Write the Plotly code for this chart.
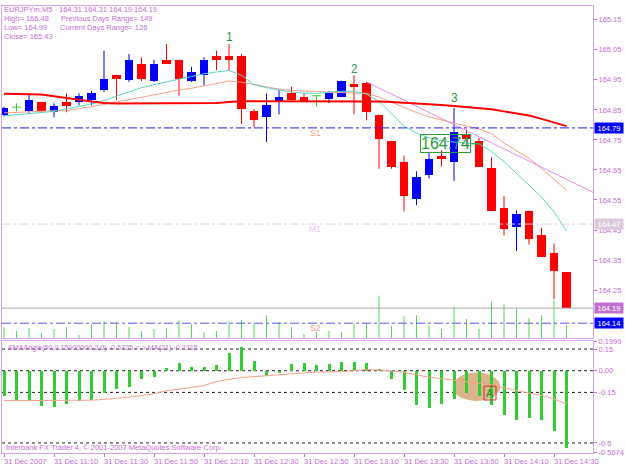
import plotly.graph_objects as go
import numpy as np

W, H = 625, 469

# ---------------- data ----------------
opens  = [164.832,164.859,164.848,164.875,164.844,164.876,164.876,164.883,164.916,164.965,
          164.949,165.003,164.946,165.017,165.017,164.946,164.965,165.028,165.028,165.028,
          164.845,164.825,164.875,164.905,164.894,164.897,164.885,164.894,164.936,164.940,
          164.834,164.747,164.676,164.555,164.632,164.698,164.676,164.766,164.745,164.656,
          164.523,164.461,164.514,164.435,164.373,164.310]
highs  = [164.860,164.872,164.905,164.876,164.872,164.905,164.905,164.913,165.047,164.965,
          165.036,165.025,165.017,165.069,165.017,164.993,165.025,165.047,165.069,165.036,
          164.853,164.905,164.916,164.927,164.905,164.900,164.913,164.947,164.965,164.943,
          164.834,164.747,164.698,164.645,164.706,164.716,164.856,164.785,164.756,164.692,
          164.563,164.515,164.514,164.457,164.405,164.310]
lows   = [164.828,164.845,164.840,164.842,164.825,164.842,164.865,164.865,164.910,164.883,
          164.943,164.946,164.943,165.003,164.897,164.943,164.932,164.982,164.982,164.803,
          164.793,164.743,164.835,164.878,164.878,164.861,164.872,164.894,164.835,164.815,
          164.654,164.654,164.512,164.533,164.622,164.661,164.613,164.730,164.661,164.512,
          164.432,164.380,164.402,164.361,164.220,164.190]
closes = [164.856,164.859,164.883,164.848,164.864,164.864,164.897,164.905,164.954,164.954,
          165.017,164.954,165.003,165.003,164.954,164.976,165.017,165.017,165.017,164.853,
          164.815,164.865,164.894,164.883,164.880,164.897,164.905,164.947,164.925,164.842,
          164.752,164.661,164.563,164.626,164.687,164.687,164.776,164.754,164.661,164.512,
          164.452,164.504,164.422,164.361,164.313,164.190]
volumes = [55,35,50,25,45,55,15,70,85,80,55,35,45,50,90,70,30,35,85,90,
           70,115,80,55,20,30,35,30,70,75,215,60,110,115,65,45,160,95,45,185,
           170,150,100,115,190,65]
ma_slow = [164.904,164.904,164.902,164.901,164.896,164.891,164.884,164.878,164.873,164.871,
           164.871,164.871,164.871,164.871,164.871,164.871,164.871,164.873,164.876,164.879,
           164.879,164.879,164.879,164.879,164.879,164.879,164.879,164.879,164.879,164.879,
           164.878,164.876,164.874,164.871,164.869,164.866,164.863,164.860,164.856,164.852,
           164.845,164.839,164.831,164.820,164.809,164.796]
ma_mid = [164.840,164.842,164.843,164.845,164.847,164.847,164.853,164.861,164.868,164.876,
          164.884,164.893,164.901,164.909,164.916,164.922,164.930,164.939,164.946,164.942,
          164.935,164.927,164.919,164.915,164.912,164.911,164.909,164.907,164.905,164.905,
          164.893,164.875,164.858,164.841,164.827,164.816,164.806,164.797,164.786,164.771,
          164.740,164.714,164.689,164.655,164.619,164.583]
ma_fast = [164.830,164.834,164.837,164.840,164.845,164.853,164.861,164.870,164.881,164.896,
           164.911,164.924,164.934,164.942,164.952,164.961,164.970,164.976,164.981,164.965,
           164.934,164.924,164.916,164.909,164.906,164.905,164.909,164.912,164.912,164.902,
           164.878,164.838,164.796,164.773,164.757,164.747,164.742,164.739,164.737,164.711,
           164.678,164.638,164.599,164.560,164.511,164.446]
trend_bars = [29, 48]
trend_prices = [164.943, 164.558]
sma_angle = [-0.177,-0.200,-0.211,-0.241,-0.252,-0.230,-0.211,-0.200,-0.150,-0.127,
             -0.109,-0.057,-0.046,0.022,0.057,0.027,0.027,0.043,0.125,0.168,
             0.065,-0.037,-0.018,0.050,0.057,0.043,0.045,0.061,0.061,0.057,
             0.016,-0.057,-0.132,-0.234,-0.257,-0.230,-0.196,-0.155,-0.177,-0.234,
             -0.307,-0.343,-0.325,-0.343,-0.416,-0.5325]
sma_angle_ma = [-0.207,-0.207,-0.207,-0.207,-0.207,-0.207,-0.206,-0.204,-0.199,-0.192,
                -0.183,-0.172,-0.160,-0.138,-0.128,-0.116,-0.102,-0.075,-0.060,-0.047,
                -0.041,-0.035,-0.027,-0.020,-0.013,-0.009,-0.008,-0.007,0.000,0.008,
                0.005,0.000,-0.012,-0.030,-0.045,-0.055,-0.065,-0.075,-0.086,-0.098,
                -0.118,-0.139,-0.155,-0.170,-0.195,-0.2315]
date_tick_bars = [0, 4, 8, 12, 16, 20, 24, 28, 32, 36, 40, 44]
date_tick_labels = ["31 Dec 2007", "31 Dec 11:10", "31 Dec 11:30", "31 Dec 11:50",
                    "31 Dec 12:10", "31 Dec 12:30", "31 Dec 12:50", "31 Dec 13:10",
                    "31 Dec 13:30", "31 Dec 13:50", "31 Dec 14:10", "31 Dec 14:30"]
price_ticks = [164.25, 164.35, 164.45, 164.55, 164.65, 164.75, 164.85, 164.95, 165.05, 165.15]
ind_ticks = [0.1999, 0.15, 0.0, -0.15, -0.5, -0.5674]
ind_tick_text = ["0.1999", "0.15", "0.00", "-0.15", "-0.5", "-0.5674"]
ind_levels = [0.15, 0.0, -0.15, -0.5]
levels = {"S1": 164.79, "M1": 164.47, "S2": 164.14}
bid = 164.19
wave_labels = [("1", 18, 165.091), ("2", 28, 164.986), ("3", 36, 164.890)]
price_label = 164.74

# ---------------- styling ----------------
PURPLE = "#c46ed6"
FRAME = "#d6a6e6"
FONT = "Liberation Sans, Arial, sans-serif"
BLUE = "#0000ff"
RED = "#ff0000"
GREEN = "#33cc33"
LBL_GREEN = "#2e9a3e"

def pxx(px):
    return px / W

def pxy(py):
    return 1 - py / H

X_RANGE = [-0.16, 47.12]
P_RANGE = [164.0909, 165.1959]
I_RANGE = [-0.5706, 0.2065]
VOL_RANGE = [0, 1685]

O = np.array(opens); Hh = np.array(highs); L = np.array(lows); C = np.array(closes)
idx = np.arange(len(O))
up = C > O
dn = C < O
dj = C == O

fig = go.Figure()

# candle bodies
base = np.minimum(O, C)
hgt = np.maximum(np.abs(C - O), 0.0025)
fig.add_trace(go.Bar(x=idx[up], y=hgt[up], base=base[up], width=0.7,
                     marker=dict(color=BLUE, line=dict(width=0)), xaxis="x", yaxis="y"))
fig.add_trace(go.Bar(x=idx[dn], y=hgt[dn], base=base[dn], width=0.7,
                     marker=dict(color=RED, line=dict(width=0)), xaxis="x", yaxis="y"))

# indicator histogram
fig.add_trace(go.Bar(x=idx, y=sma_angle, width=0.24, marker=dict(color="#32cd32", line=dict(width=0)),
                     xaxis="x2", yaxis="y2"))


def segs(ids):
    xs, ys = [], []
    for i in ids:
        xs += [i, i, None]
        ys += [L[i], Hh[i], None]
    return xs, ys

for mask, col in ((up, BLUE), (dn, RED)):
    xs, ys = segs(idx[mask])
    fig.add_trace(go.Scatter(x=xs, y=ys, mode="lines", line=dict(color=col, width=1),
                             xaxis="x", yaxis="y"))
# doji crosses
xs, ys = [], []
for i in idx[dj]:
    xs += [i, i, None, i - 0.35, i + 0.35, None]
    ys += [L[i], Hh[i], None, O[i], O[i], None]
fig.add_trace(go.Scatter(x=xs, y=ys, mode="lines", line=dict(color=GREEN, width=1),
                         xaxis="x", yaxis="y"))

# moving averages (overlay axis so they are above the candles)
fig.add_trace(go.Scatter(x=idx, y=ma_mid, mode="lines", line=dict(color="#f8a088", width=1),
                         xaxis="x", yaxis="y3"))
fig.add_trace(go.Scatter(x=idx, y=ma_fast, mode="lines", line=dict(color="#5cd6c0", width=1),
                         xaxis="x", yaxis="y3"))
fig.add_trace(go.Scatter(x=trend_bars, y=trend_prices, mode="lines", line=dict(color="#e88ce8", width=1),
                         xaxis="x", yaxis="y3"))
fig.add_trace(go.Scatter(x=idx, y=ma_slow, mode="lines", line=dict(color=RED, width=2),
                         xaxis="x", yaxis="y3"))

# volumes
vx, vy = [], []
for i, v in zip(idx, volumes):
    vx += [i, i, None]
    vy += [0, v, None]
fig.add_trace(go.Scatter(x=vx, y=vy, mode="lines", line=dict(color="#55d455", width=1),
                         xaxis="x", yaxis="y4"))

# indicator MA
fig.add_trace(go.Scatter(x=idx, y=sma_angle_ma, mode="lines", line=dict(color="#f8a088", width=1),
                         xaxis="x2", yaxis="y2"))

shapes = []
# ellipse marker in indicator window
shapes.append(dict(type="circle", xref="x2", yref="y2", x0=35.9, x1=39.7, y0=-0.209, y1=-0.012,
                   fillcolor="#d9b48c", line=dict(width=0), layer="below"))
for lv in ind_levels:
    shapes.append(dict(type="line", xref="paper", yref="y2", x0=pxx(2), x1=pxx(593), y0=lv, y1=lv,
                       line=dict(color="#222222", width=1, dash="dot"), layer="below"))
shapes.append(dict(type="rect", xref="x2", yref="y2", x0=38.4, x1=39.36, y0=-0.2025, y1=-0.107,
                   line=dict(color="#cc3333", width=1)))
# horizontal levels on price chart
shapes.append(dict(type="line", xref="paper", yref="y", x0=pxx(2), x1=pxx(593), y0=levels["S1"], y1=levels["S1"],
                   line=dict(color="#2222ee", width=1, dash="dashdot")))
shapes.append(dict(type="line", xref="paper", yref="y", x0=pxx(2), x1=pxx(593), y0=levels["M1"], y1=levels["M1"],
                   line=dict(color="#eccaec", width=1, dash="dashdot")))
shapes.append(dict(type="line", xref="paper", yref="y", x0=pxx(2), x1=pxx(593), y0=bid, y1=bid,
                   line=dict(color="#a8a8b0", width=1)))
shapes.append(dict(type="line", xref="paper", yref="y", x0=pxx(2), x1=pxx(593), y0=levels["S2"], y1=levels["S2"],
                   line=dict(color="#5555ee", width=1, dash="dashdot")))
# pointer of the price label
shapes.append(dict(type="line", xref="x", yref="y", x0=37.28, x1=38.24, y0=price_label - 0.003, y1=price_label - 0.003,
                   line=dict(color=LBL_GREEN, width=1)))

ann = []
def txt(text, x, y, size=7.5, color=PURPLE, xanchor="left", **kw):
    d = dict(text=text, x=x, y=y, xref=kw.pop("xref", "paper"), yref=kw.pop("yref", "paper"),
             showarrow=False, xanchor=xanchor, yanchor=kw.pop("yanchor", "middle"),
             font=dict(family=FONT, size=size, color=color))
    d.update(kw)
    ann.append(d)

# header
txt("EURJPYm,M5", pxx(2), pxy(7))
txt("164.31 164.31 164.19 164.19", pxx(57), pxy(7))
txt("High= 166.48", pxx(2), pxy(16))
txt("Previous Days Range= 149", pxx(59), pxy(16))
txt("Low= 164.99", pxx(2), pxy(25))
txt("Current Days Range= 126", pxx(58), pxy(25))
txt("Close= 165.43", pxx(2), pxy(34))

# level names
txt("S1", 24.9, levels["S1"] - 0.017, size=8.5, color="#f4a080", xanchor="center", xref="x", yref="y")
txt("M1", 24.9, levels["M1"] - 0.017, size=8.5, color="#e6c4ec", xanchor="center", xref="x", yref="y")
txt("S2", 24.9, levels["S2"] - 0.017, size=8.5, color="#f4a080", xanchor="center", xref="x", yref="y")

# wave labels
for t, b, p in wave_labels:
    txt(t, b, p, size=12, color=LBL_GREEN, xanchor="center", xref="x", yref="y")

# price label box
ann.append(dict(text="164.74", x=35.28, y=price_label - 0.003, xref="x", yref="y", showarrow=False,
                xanchor="center", yanchor="middle", font=dict(family=FONT, size=16, color=LBL_GREEN),
                bordercolor=LBL_GREEN, borderwidth=1, borderpad=0, bgcolor="rgba(255,255,255,0)"))

# right side boxes
for val, bg in ((levels["S1"], BLUE), (levels["M1"], "#dccadc"), (bid, "#c070d0"), (levels["S2"], BLUE)):
    ann.append(dict(text=f"{val:.2f}", x=pxx(594), y=val, xref="paper", yref="y", showarrow=False,
                    xanchor="left", yanchor="middle", font=dict(family=FONT, size=7.5, color="white"),
                    bgcolor=bg, width=28, height=10, borderpad=0, align="center"))

# indicator label + footer
txt("SMAAngle(50,0.15000000,2,0) -0.5325 <-> MA(21) -0.2315", pxx(6), pxy(350), size=7.2)
txt("Interbank FX Trader 4, \u00a9 2001-2007 MetaQuotes Software Corp.", pxx(4), pxy(451), size=7.5)
# icon mark
txt("A", 38.88, -0.152, size=11, color="#2a8a2a", xanchor="center", xref="x2", yref="y2")

# date labels
for b, lab in zip(date_tick_bars, date_tick_labels):
    txt(lab, b, pxy(465), size=7.5, xref="x2", xshift=-2)

axis_common = dict(showgrid=False, zeroline=False, showline=True, mirror=True, linecolor=FRAME, linewidth=1)
fig.update_layout(
    width=W, height=H, margin=dict(l=0, r=0, t=0, b=0), autosize=False,
    paper_bgcolor="white", plot_bgcolor="white", showlegend=False, hovermode=False,
    barmode="overlay", bargap=0,
    font=dict(family=FONT, size=7.5, color=PURPLE),
    xaxis=dict(domain=[pxx(2), pxx(593)], range=X_RANGE, anchor="y", showticklabels=False, ticks="",
               **axis_common),
    yaxis=dict(domain=[pxy(340), pxy(3)], range=P_RANGE, side="right", anchor="x",
               tickvals=price_ticks, ticktext=[f"{v:.2f}" for v in price_ticks],
               ticks="outside", ticklen=3, tickcolor=PURPLE, tickfont=dict(size=7.5, color=PURPLE, family=FONT),
               **axis_common),
    yaxis3=dict(overlaying="y", range=P_RANGE, anchor="x", showticklabels=False, ticks="",
                showgrid=False, zeroline=False, showline=False),
    yaxis4=dict(overlaying="y", range=VOL_RANGE, anchor="x", showticklabels=False, ticks="",
                showgrid=False, zeroline=False, showline=False),
    xaxis2=dict(domain=[pxx(2), pxx(593)], range=X_RANGE, anchor="y2", showticklabels=False,
                tickvals=date_tick_bars, ticks="outside", ticklen=3, tickcolor=PURPLE, **axis_common),
    yaxis2=dict(domain=[pxy(457), pxy(343)], range=I_RANGE, side="right", anchor="x2",
                tickvals=ind_ticks, ticktext=ind_tick_text,
                ticks="outside", ticklen=3, tickcolor=PURPLE, tickfont=dict(size=7.5, color=PURPLE, family=FONT),
                **axis_common),
    shapes=shapes, annotations=ann,
)

fig.write_html("out.html")
